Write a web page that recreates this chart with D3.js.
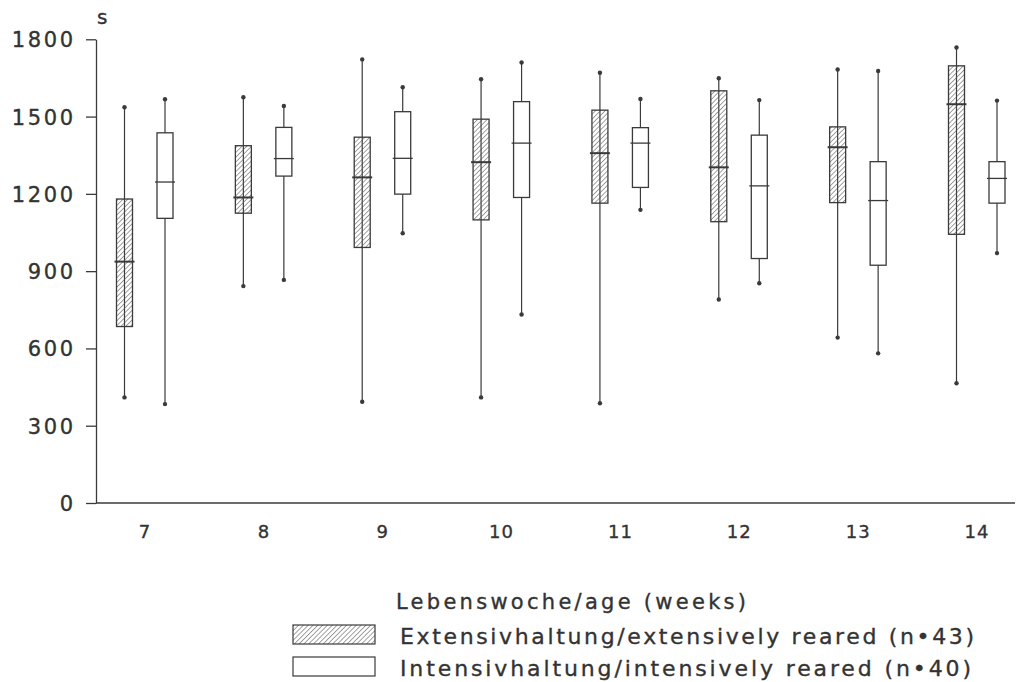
<!DOCTYPE html>
<html>
<head>
<meta charset="utf-8">
<script src="https://cdn.jsdelivr.net/npm/d3@7"></script>
<style>
  body { margin: 0; background: #fff; }
  text { font-family: "DejaVu Sans", sans-serif; fill: #333; stroke: #333; stroke-width: 0.35px; }
</style>
</head>
<body>
<svg id="chart"></svg>
<script>
// weeks of age
const weeks = [7, 8, 9, 10, 11, 12, 13, 14];
const yTicks = [0, 300, 600, 900, 1200, 1500, 1800];

// box stats per week: [min, q1, median, q3, max] (s)
const extensive = [
  [410, 685, 937, 1180, 1536],
  [842, 1125, 1186, 1387, 1575],
  [393, 992, 1264, 1420, 1722],
  [410, 1099, 1323, 1490, 1645],
  [387, 1164, 1358, 1525, 1670],
  [790, 1092, 1303, 1600, 1649],
  [642, 1166, 1381, 1460, 1683],
  [465, 1043, 1548, 1697, 1768]
];
const intensive = [
  [384, 1105, 1246, 1437, 1567],
  [866, 1269, 1337, 1458, 1541],
  [1047, 1199, 1338, 1519, 1614],
  [732, 1186, 1397, 1558, 1710],
  [1138, 1225, 1397, 1457, 1568],
  [853, 949, 1231, 1428, 1564],
  [581, 923, 1174, 1325, 1677],
  [970, 1164, 1260, 1325, 1562]
];

const seriesLabels = [
  "Extensivhaltung/extensively reared (n\u202243)",
  "Intensivhaltung/intensively reared (n\u202240)"
];
const xTitle = "Lebenswoche/age (weeks)";
const yUnit = "s";

const width = 1018;
const height = 682;
const ink = "#3a3a3a";

const svg = d3.select('#chart')
  .attr('width', width)
  .attr('height', height);

// hatch pattern for the extensive group
const defs = svg.append('defs');
defs.append('pattern')
  .attr('id', 'hatch')
  .attr('patternUnits', 'userSpaceOnUse')
  .attr('width', 3.4)
  .attr('height', 3.4)
  .attr('patternTransform', 'rotate(45)')
  .append('line')
  .attr('x1', 0).attr('y1', 0)
  .attr('x2', 0).attr('y2', 3.4)
  .attr('stroke', '#555')
  .attr('stroke-width', 1.1);

const y = d3.scaleLinear().domain([0, 1800]).range([503, 39.3]);
const x = d3.scalePoint().domain(weeks).range([145, 977]);

const axisX0 = 96;
const axisX1 = 1015;

// y axis
const yAxis = svg.append('g')
  .attr('transform', `translate(${axisX0},0)`)
  .call(d3.axisLeft(y).tickValues(yTicks).tickFormat(d3.format('d'))
    .tickSize(10).tickSizeOuter(0).tickPadding(13));
yAxis.select('.domain').attr('stroke', ink).attr('stroke-width', 1.3);
yAxis.selectAll('.tick line').attr('stroke', ink).attr('stroke-width', 1.3);
yAxis.selectAll('.tick text')
  .attr('font-size', 21)
  .attr('font-family', '"DejaVu Sans", sans-serif')
  .attr('fill', '#333')
  .attr('letter-spacing', 2.6)
  .attr('dx', 2.6)
  .attr('dy', '0.36em');

// x axis line
svg.append('line')
  .attr('x1', axisX0).attr('x2', axisX1)
  .attr('y1', y(0)).attr('y2', y(0))
  .attr('stroke', ink)
  .attr('stroke-width', 1.4);

// x tick labels
svg.append('g')
  .selectAll('text')
  .data(weeks)
  .enter().append('text')
  .attr('x', d => x(d))
  .attr('y', 538)
  .attr('text-anchor', 'middle')
  .attr('font-size', 18)
  .attr('letter-spacing', 1)
  .text(d => d);

// unit label
svg.append('text')
  .attr('x', 97)
  .attr('y', 24)
  .attr('font-size', 20)
  .text(yUnit);

const boxW = 16;
const groups = [
  { data: extensive, offset: -20.5, fill: 'url(#hatch)', medW: 2 },
  { data: intensive, offset: 20, fill: '#fff', medW: 1.3 }
];

groups.forEach(grp => {
  const g = svg.append('g');
  const box = g.selectAll('g')
    .data(grp.data)
    .enter().append('g')
    .attr('transform', (d, i) => `translate(${x(weeks[i]) + grp.offset},0)`);

  // whiskers
  box.append('line')
    .attr('x1', 0).attr('x2', 0)
    .attr('y1', d => y(d[0]))
    .attr('y2', d => y(d[4]))
    .attr('stroke', ink)
    .attr('stroke-width', 1.2);

  // whisker end dots
  box.selectAll('circle')
    .data(d => [d[0], d[4]])
    .enter().append('circle')
    .attr('cx', 0)
    .attr('cy', v => y(v))
    .attr('r', 2.2)
    .attr('fill', ink);

  box.append('rect')
    .attr('x', -boxW / 2)
    .attr('width', boxW)
    .attr('y', d => y(d[3]))
    .attr('height', d => y(d[1]) - y(d[3]))
    .attr('fill', grp.fill)
    .attr('stroke', ink)
    .attr('stroke-width', 1.3);

  box.append('line')
    .attr('x1', -boxW / 2 - 2).attr('x2', boxW / 2 + 2)
    .attr('y1', d => y(d[2]))
    .attr('y2', d => y(d[2]))
    .attr('stroke', ink)
    .attr('stroke-width', grp.medW);
});

// x axis title
svg.append('text')
  .attr('x', 396)
  .attr('y', 609)
  .attr('font-size', 21)
  .attr('textLength', 350)
  .attr('lengthAdjust', 'spacing')
  .text(xTitle);

// legend
const legend = svg.append('g');
const legendRows = [
  { label: seriesLabels[0], fill: 'url(#hatch)', y: 625, len: 574 },
  { label: seriesLabels[1], fill: '#fff', y: 657, len: 571 }
];
legendRows.forEach(r => {
  legend.append('rect')
    .attr('x', 293).attr('y', r.y)
    .attr('width', 82).attr('height', 19)
    .attr('fill', r.fill)
    .attr('stroke', ink)
    .attr('stroke-width', 1.2);
  legend.append('text')
    .attr('x', 400)
    .attr('y', r.y + 19)
    .attr('font-size', 22)
    .attr('textLength', r.len)
    .attr('lengthAdjust', 'spacing')
    .text(r.label);
});
</script>
</body>
</html>
